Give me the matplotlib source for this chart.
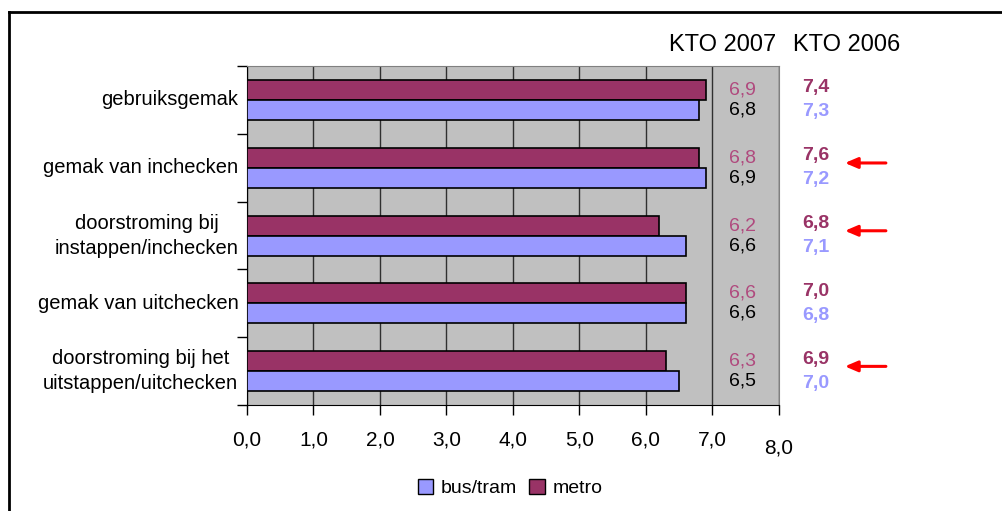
import numpy as np
import matplotlib.pyplot as plt
import matplotlib.transforms as mtransforms
from matplotlib.patches import Patch

# data
categories = ['gebruiksgemak', 'gemak van inchecken', 'doorstroming bij\ninstappen/inchecken',
              'gemak van uitchecken', 'doorstroming bij het\nuitstappen/uitchecken']
metro_2007 = [6.9, 6.8, 6.2, 6.6, 6.3]
bus_2007 = [6.8, 6.9, 6.6, 6.6, 6.5]
metro_2006 = [7.4, 7.6, 6.8, 7.0, 6.9]
bus_2006 = [7.3, 7.2, 7.1, 6.8, 7.0]
arrow_rows = [1, 2, 4]  # rows marked with a red arrow
xticks = [0, 1, 2, 3, 4, 5, 6, 7, 8]

metro_col = '#993366'
bus_col = '#9999FF'
metro_lbl_col = '#B04A7E'

plt.rcParams['font.family'] = ['Liberation Sans', 'DejaVu Sans']
fs = 14
fs_lab = 14.5


def fmt(v):
    return ('%.1f' % v).replace('.', ',')


fig = plt.figure(figsize=(10.02, 5.11), dpi=100)
ax = fig.add_axes([0.2465, 0.2074, 0.5309, 0.6634])
ax.set_facecolor('#C0C0C0')

y = np.arange(len(categories))
h = 0.295
ax.barh(y - h / 2, metro_2007, height=h, color=metro_col, edgecolor='black', lw=1.2, zorder=3)
ax.barh(y + h / 2, bus_2007, height=h, color=bus_col, edgecolor='black', lw=1.2, zorder=3)

ax.set_xlim(0, 8)
ax.set_ylim(len(categories) - 0.5, -0.5)
ax.set_xticks(xticks)
ax.set_xticklabels([fmt(v) for v in xticks], fontsize=15)
ax.set_yticks(np.arange(-0.5, len(categories), 1.0))
ax.set_yticklabels([])
ax.tick_params(axis='y', length=7, width=1, direction='out')
ax.tick_params(axis='x', length=7, width=1, direction='out', pad=11)
ax.xaxis.grid(True, color='#303030', lw=1, zorder=1)
# the 8,0 label sits a bit lower in the original
last = ax.get_xticklabels()[-1]
last.set_transform(last.get_transform() + mtransforms.ScaledTranslation(0, -6 / 72, fig.dpi_scale_trans))

for s in ['top', 'right']:
    ax.spines[s].set_color('#808080')
for s in ['left', 'bottom']:
    ax.spines[s].set_color('black')

# category labels
for i, c in enumerate(categories):
    ax.text(-0.13, i, c, ha='right', va='center', multialignment='center', fontsize=fs_lab,
            linespacing=1.4)

# KTO 2007 values inside the grey column, KTO 2006 values to the right
for i in range(len(categories)):
    ax.text(7.45, i - h / 2, fmt(metro_2007[i]), ha='center', va='center',
            fontsize=fs, color=metro_lbl_col)
    ax.text(7.45, i + h / 2, fmt(bus_2007[i]), ha='center', va='center',
            fontsize=fs, color='black')
    ax.text(8.55, i - h / 2 - 0.03, fmt(metro_2006[i]), ha='center', va='center',
            fontsize=fs, color=metro_col, fontweight='bold', clip_on=False)
    ax.text(8.55, i + h / 2 + 0.03, fmt(bus_2006[i]), ha='center', va='center',
            fontsize=fs, color=bus_col, fontweight='bold', clip_on=False)

for i in arrow_rows:
    ax.annotate('', xy=(8.95, i - 0.07), xytext=(9.65, i - 0.07), xycoords='data',
                arrowprops=dict(arrowstyle='-|>,head_length=0.75,head_width=0.32', color='red', lw=2.2),
                annotation_clip=False)

fig.text(0.7215, 0.912, 'KTO 2007', ha='center', va='center', fontsize=17)
fig.text(0.8453, 0.912, 'KTO 2006', ha='center', va='center', fontsize=17)

handles = [Patch(facecolor=bus_col, edgecolor='black', label='bus/tram'),
           Patch(facecolor=metro_col, edgecolor='black', label='metro')]
fig.legend(handles=handles, loc='center', bbox_to_anchor=(0.509, 0.045), ncol=2, frameon=False,
           fontsize=fs, handlelength=0.8, handleheight=0.8, handletextpad=0.4, columnspacing=0.6)

# outer frame lines (left and top)
fig.add_artist(plt.Line2D([0.0085, 0.0085], [0, 0.977], color='black', lw=2, transform=fig.transFigure))
fig.add_artist(plt.Line2D([0.0085, 1.0], [0.977, 0.977], color='black', lw=2, transform=fig.transFigure))

plt.savefig('out.png', dpi=100)
plt.close()
